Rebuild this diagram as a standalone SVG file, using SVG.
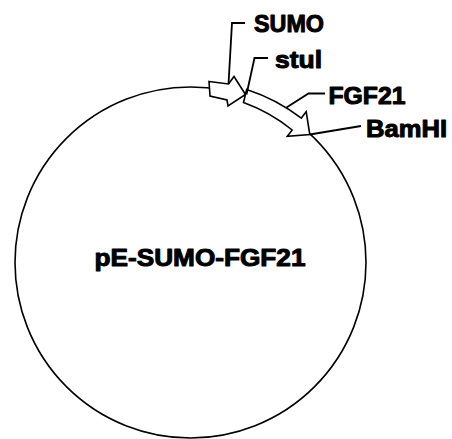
<svg xmlns="http://www.w3.org/2000/svg" width="452" height="439" viewBox="0 0 452 439">
<style>
.bb{fill:#fff}
.ln{fill:none;stroke:#000;stroke-width:1.8;stroke-linejoin:miter}
.ar{fill:#fff;stroke:#000;stroke-width:1.6;stroke-linejoin:miter}
.lb{font-family:"Liberation Sans",Arial,sans-serif;font-weight:bold;font-size:24px;fill:#000;stroke:#000;stroke-width:1;stroke-linejoin:round}
</style>
<rect class="bb" x="0" y="0" width="452" height="439"/>
<g id="plasmid">
<circle cx="190.5" cy="262.5" r="175.5" fill="none" stroke="#000" stroke-width="1.6"/>
<text class="lb" x="94.5" y="265.5" font-size="22" textLength="211" lengthAdjust="spacingAndGlyphs">pE-SUMO-FGF21</text>
</g>
<g id="sumo">
<path class="ar" d="M209,81.5 L228.5,84 L234,76.5 L245.5,94.5 L228,106 L227,100 L210,96 Z"/>
<text class="lb" x="254" y="32" textLength="70" lengthAdjust="spacingAndGlyphs">SUMO</text>
</g>
<g id="fgf21">
<path class="ar" d="M246.7,89.4 A182,182 0 0 1 301.3,118.1 L306.2,111.8 L309.8,134.5 L287.3,136.3 L292.2,130 A167,167 0 0 0 243.5,102.5 Z"/>
<text class="lb" x="328.5" y="104" textLength="77" lengthAdjust="spacingAndGlyphs">FGF21</text>
</g>
<g id="stul">
<text class="lb" x="275" y="67.5" textLength="47" lengthAdjust="spacingAndGlyphs">stul</text>
</g>
<g id="bamhi">
<text class="lb" x="366" y="136.5" textLength="81" lengthAdjust="spacingAndGlyphs">BamHI</text>
</g>
<g id="connectors">
<polyline class="ln" points="245,23 232,23 228.5,84"/>
<polyline class="ln" points="268,58 254.5,58 246.5,94.5"/>
<polyline class="ln" points="325,93.5 308.5,93.5 286.5,107.5"/>
<polyline class="ln" points="309.8,134.5 361,126"/>
</g>
</svg>
